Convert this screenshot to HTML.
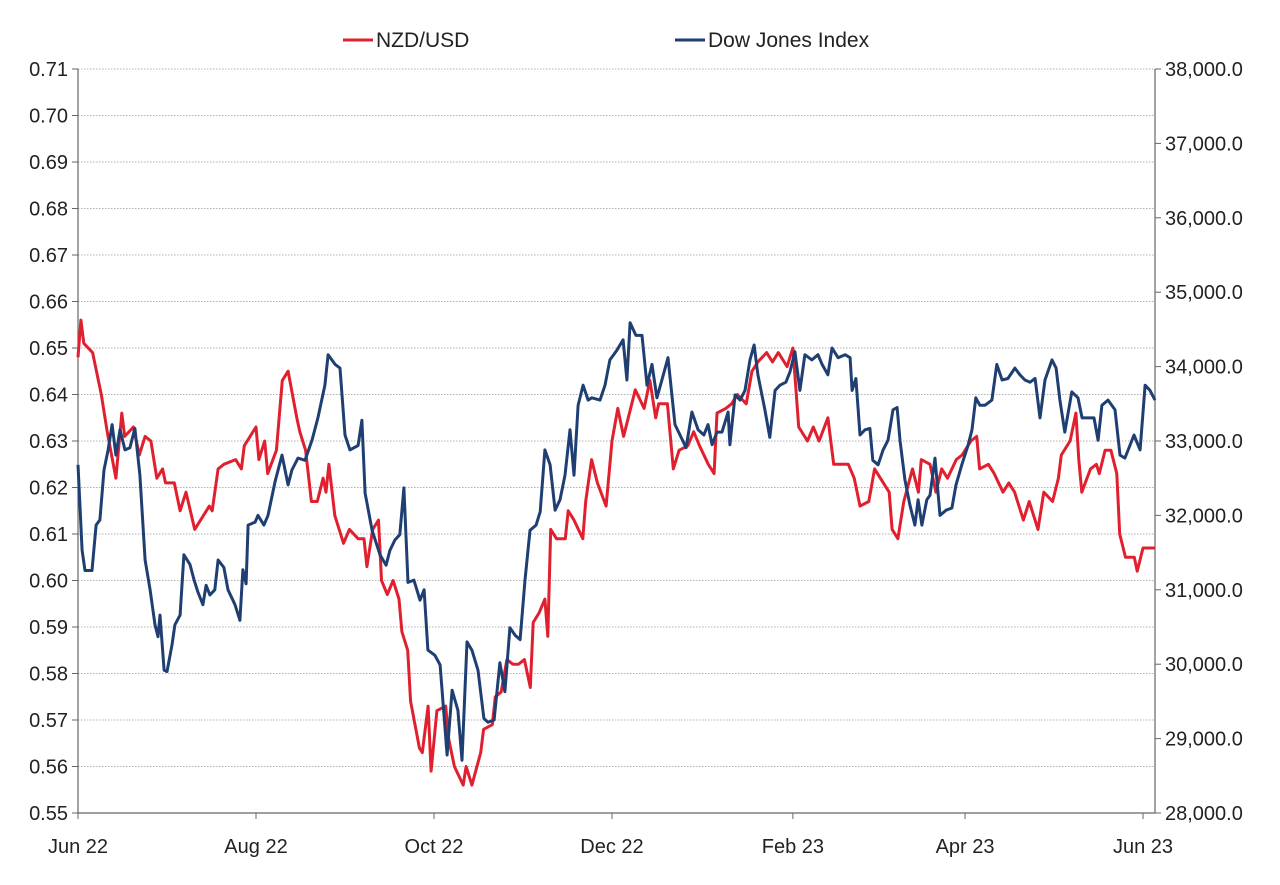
<!DOCTYPE html>
<html><head><meta charset="utf-8"><style>
html,body{margin:0;padding:0;background:#fff;}
svg text{font-family:"Liberation Sans",sans-serif;font-size:20px;fill:#222;}
svg text.lg{font-size:21px;}
</style></head><body>
<svg id="chart" width="1280" height="880" xmlns="http://www.w3.org/2000/svg"></svg>
<script>
const nzdDays=[0,1,2,5,8,10,13,15,16,19,21,23,25,27,29,30,33,35,37,40,42,45,46,48,50,54,56,57,61,62,64,65,68,70,72,75,76,78,80,82,84,85,86,88,91,93,96,98,99,101,103,104,106,108,110,111,113,114,117,118,120,121,123,126,127,129,132,133,135,138,139,142,143,145,147,149,151,153,155,156,158,160,161,162,164,167,168,170,173,174,176,178,181,183,185,187,191,194,196,198,199,202,204,206,209,211,213,216,218,219,222,224,226,229,231,233,236,238,240,243,245,247,250,252,254,257,259,262,264,266,268,271,273,275,278,279,281,283,286,288,289,292,294,296,298,301,303,306,308,309,312,314,317,319,321,324,326,329,331,334,336,337,340,342,343,344,347,349,350,352,354,356,357,359,362,363,365,367,369];
const nzdValues=[0.648,0.656,0.651,0.649,0.640,0.632,0.622,0.636,0.631,0.633,0.627,0.631,0.630,0.622,0.624,0.621,0.621,0.615,0.619,0.611,0.613,0.616,0.615,0.624,0.625,0.626,0.624,0.629,0.633,0.626,0.630,0.623,0.628,0.643,0.645,0.635,0.632,0.628,0.617,0.617,0.622,0.619,0.625,0.614,0.608,0.611,0.609,0.609,0.603,0.611,0.613,0.600,0.597,0.600,0.596,0.589,0.585,0.574,0.564,0.563,0.573,0.559,0.572,0.573,0.566,0.560,0.556,0.560,0.556,0.563,0.568,0.569,0.575,0.576,0.583,0.582,0.582,0.583,0.577,0.591,0.593,0.596,0.588,0.611,0.609,0.609,0.615,0.613,0.609,0.617,0.626,0.621,0.616,0.630,0.637,0.631,0.641,0.637,0.643,0.635,0.638,0.638,0.624,0.628,0.629,0.632,0.629,0.625,0.623,0.636,0.637,0.638,0.640,0.638,0.645,0.647,0.649,0.647,0.649,0.646,0.650,0.633,0.630,0.633,0.630,0.635,0.625,0.625,0.625,0.622,0.616,0.617,0.624,0.622,0.619,0.611,0.609,0.617,0.624,0.619,0.626,0.625,0.619,0.624,0.622,0.626,0.627,0.630,0.631,0.624,0.625,0.623,0.619,0.621,0.619,0.613,0.617,0.611,0.619,0.617,0.622,0.627,0.630,0.636,0.626,0.619,0.624,0.625,0.623,0.628,0.628,0.623,0.610,0.605,0.605,0.602,0.607,0.607,0.607];
const dowDays=[0,1.4,2.4,4.8,6.2,7.5,8.9,10.3,11.7,13.0,14.4,16.1,17.8,19.5,21.2,23.0,24.7,26.4,27.4,28.1,29.5,30.5,32.2,33.2,35.0,36.3,38.4,39.8,41.1,42.8,43.9,45.2,46.9,48.0,50.0,51.4,53.8,55.5,56.5,57.6,58.3,60.7,61.7,63.7,65.1,67.5,69.9,72.0,73.3,75.4,77.8,80.2,82.2,84.6,85.7,88.1,89.8,91.5,93.2,96.0,97.3,98.4,100.8,103.5,105.6,106.9,108.6,110.3,111.7,113.1,115.1,117.2,118.6,119.9,122.3,124.1,126.5,128.2,130.2,131.6,133.3,135.0,137.1,139.1,140.5,142.6,144.6,146.3,148.0,149.8,151.5,153.2,154.9,157.0,158.4,160.0,161.8,163.5,165.2,166.9,168.6,170.0,171.4,173.1,174.8,176.1,178.9,180.6,182.3,184.7,186.8,188.1,189.2,191.2,193.3,195.0,196.7,198.4,200.1,202.2,204.6,206.3,208.4,210.4,212.5,214.5,215.9,217.3,219.0,220.7,222.8,223.4,225.2,226.9,228.6,230.3,231.7,233.0,235.4,237.1,238.9,240.6,242.6,244.0,245.7,247.4,249.1,251.5,253.6,255.0,257.0,258.4,260.5,262.9,264.6,265.3,266.6,268.0,269.7,271.4,272.4,274.2,275.9,277.6,279.3,280.7,281.7,283.4,285.1,286.8,287.9,289.2,290.9,292.0,293.7,295.4,297.5,299.5,300.9,302.9,305.0,306.4,307.7,309.1,310.8,313.2,314.9,316.7,318.7,321.1,322.8,324.5,326.3,328.0,329.7,331.4,333.8,335.2,336.5,338.2,340.6,342.7,344.1,346.1,348.2,349.6,350.9,353.0,355.4,357.1,358.8,360.5,361.9,364.0,365.7,367.4,369.1];
const dowValues=[32680,31530,31260,31260,31870,31940,32610,32880,33220,32810,33150,32880,32910,33170,32540,31400,31000,30530,30370,30660,29920,29900,30260,30530,30660,31470,31340,31130,30970,30800,31060,30930,31000,31400,31300,31000,30800,30590,31270,31080,31870,31910,32000,31870,32000,32450,32810,32410,32610,32770,32740,33010,33310,33750,34160,34030,33980,33080,32880,32940,33280,32300,31800,31470,31330,31530,31670,31740,32370,31100,31130,30860,31000,30190,30120,29990,28780,29650,29380,28710,30300,30190,29920,29270,29220,29250,30020,29630,30490,30390,30330,31130,31800,31870,32050,32880,32680,32070,32210,32540,33150,32540,33480,33750,33550,33580,33550,33750,34090,34220,34360,33820,34590,34420,34420,33750,34030,33580,33820,34120,33220,33080,32910,33390,33150,33080,33220,32950,33120,33120,33390,32950,33620,33550,33680,34090,34290,33890,33420,33050,33680,33750,33790,33930,34200,33680,34160,34090,34160,34030,33890,34250,34120,34160,34120,33680,33840,33080,33150,33170,32740,32680,32880,33010,33420,33450,33010,32480,32140,31870,32210,31870,32210,32270,32770,32000,32070,32100,32410,32680,32940,33150,33580,33480,33480,33550,34030,33820,33840,33980,33890,33820,33790,33840,33310,33820,34090,33980,33550,33120,33660,33580,33310,33310,33310,33010,33480,33550,33420,32810,32770,32940,33080,32880,33750,33680,33550];
const leftTicks=[0.55,0.56,0.57,0.58,0.59,0.60,0.61,0.62,0.63,0.64,0.65,0.66,0.67,0.68,0.69,0.70,0.71];
const rightTicks=[28000,29000,30000,31000,32000,33000,34000,35000,36000,37000,38000];
const monthLabels=["Jun 22","Aug 22","Oct 22","Dec 22","Feb 23","Apr 23","Jun 23"];
const monthDays=[0,61,122,183,245,304,365];

const L=78,R=1155,T=69,B=813,DMAX=369.1;
const xS=d=>L+d/DMAX*(R-L);
const yL=v=>B-(v-0.55)/(0.71-0.55)*(B-T);
const yR=v=>B-(v-28000)/(38000-28000)*(B-T);
const svg=document.getElementById('chart');
const NS='http://www.w3.org/2000/svg';
function mk(tag,attrs,parent){const e=document.createElementNS(NS,tag);for(const k in attrs)e.setAttribute(k,attrs[k]);(parent||svg).appendChild(e);return e;}

leftTicks.forEach((v,i)=>{
  const y=yL(v);
  if(i>0){const g=mk('line',{x1:L,x2:R,y1:y,y2:y,stroke:'#999','stroke-width':0.8,'stroke-dasharray':'1.5,1.5'});
  
  }
  mk('line',{x1:L-6,x2:L,y1:y,y2:y,stroke:'#666'});
  const t=mk('text',{x:L-10,y:y+7,'text-anchor':'end'});t.textContent=v.toFixed(2);
  
  
});
rightTicks.forEach(v=>{
  const y=yR(v);
  mk('line',{x1:R,x2:R+6,y1:y,y2:y,stroke:'#666'});
  const t=mk('text',{x:R+10,y:y+7,'text-anchor':'start'});t.textContent=v.toLocaleString('en-US')+'.0';
  
  
});
monthLabels.forEach((m,i)=>{
  const x=xS(monthDays[i]);
  mk('line',{x1:x,x2:x,y1:B,y2:B+6,stroke:'#666'});
  const t=mk('text',{x:x,y:B+40,'text-anchor':'middle'});t.textContent=m;
  
  
});
const ax=mk('path',{d:`M${L},${T}V${B}H${R}V${T}`,fill:'none',stroke:'#666','stroke-width':1.2});



const red=mk('polyline',{points:nzdDays.map((d,i)=>xS(d).toFixed(1)+','+yL(nzdValues[i]).toFixed(1)).join(' '),fill:'none',stroke:'#e0202f','stroke-width':3,'stroke-linejoin':'round'});


const blue=mk('polyline',{points:dowDays.map((d,i)=>xS(d).toFixed(1)+','+yR(dowValues[i]).toFixed(1)).join(' '),fill:'none',stroke:'#1f3f73','stroke-width':3,'stroke-linejoin':'round'});



const lg1=mk('line',{x1:343,x2:373,y1:40,y2:40,stroke:'#e0202f','stroke-width':3});


const lt1=mk('text',{x:376,y:47,class:'lg'});lt1.textContent='NZD/USD';


const lg2=mk('line',{x1:675,x2:705,y1:40,y2:40,stroke:'#1f3f73','stroke-width':3});


const lt2=mk('text',{x:708,y:47,class:'lg'});lt2.textContent='Dow Jones Index';


</script>
</body></html>
